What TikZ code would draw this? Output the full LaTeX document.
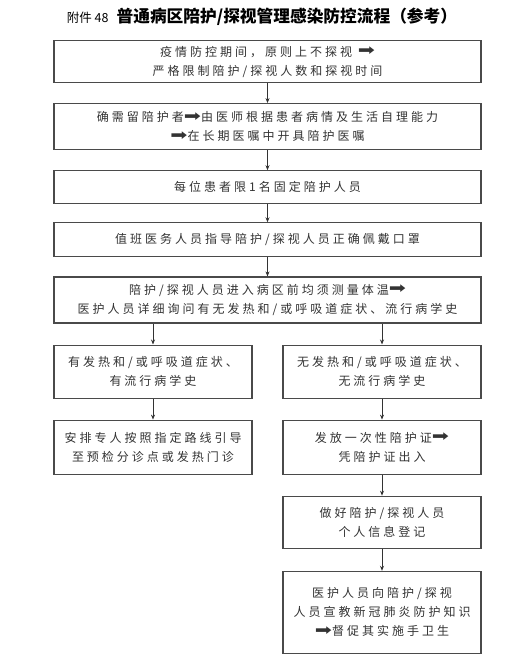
\documentclass[tikz,border=0pt]{standalone}
\usepackage{fontspec}
\usepackage{graphicx}
\setmainfont{Noto Sans CJK SC}
\newfontfamily\spacedcjk{Noto Sans CJK SC}[LetterSpace=25]
\newfontfamily\symfont{DejaVu Sans}
\usepackage{xcolor}
\usetikzlibrary{positioning,arrows.meta}
\definecolor{flowink}{HTML}{333333}
\definecolor{flowline}{HTML}{4A4A4A}
\newcommand{\flowarr}{{\symfont\raisebox{0.1ex}{\scalebox{1.7}[1.3]{➡}}}}

\begin{document}
\begin{tikzpicture}[
  x=1pt,y=-1pt,
  font=\spacedcjk\fontsize{12}{19}\selectfont,
  text=flowink,
  stepbox/.style={draw=flowline,line width=1.1pt,fill=white,align=center,
                  inner sep=3pt},
  wide/.style={stepbox,minimum width=427pt},
  half/.style={stepbox,minimum width=198pt},
  arr/.style={-{Stealth[length=5pt,width=4pt]},flowink,line width=0.8pt}
]
\useasboundingbox (0,0) rectangle (522,671);

% title
\node[font=\normalfont,text=black] (title) at (262,17)
  {{\fontsize{12.5}{14}\selectfont 附件 48}\hspace{8pt}%
   {\fontsize{16.7}{18}\selectfont\bfseries 普通病区陪护/探视管理感染防控流程（参考）}};

% main column
\node[wide,minimum height=42pt,anchor=north] (rule) at (267.5,40)
  {疫情防控期间，原则上不探视 \flowarr\\ 严格限制陪护/探视人数和探视时间};
\node[wide,minimum height=46pt,below=20pt of rule] (order)
  {确需留陪护者\flowarr 由医师根据患者病情及生活自理能力\\ \flowarr 在长期医嘱中开具陪护医嘱};
\node[wide,minimum height=33pt,below=20pt of order] (limit)
  {每位患者限1名固定陪护人员};
\node[wide,minimum height=34pt,below=18pt of limit] (mask)
  {值班医务人员指导陪护/探视人员正确佩戴口罩};
\node[wide,minimum height=46pt,below=19pt of mask] (temp)
  {陪护/探视人员进入病区前均须测量体温\flowarr\\ 医护人员详细询问有无发热和/或呼吸道症状、流行病学史};

% left branch
\node[half,minimum height=53pt,below=21pt of temp.south west,anchor=north west] (fever)
  {有发热和/或呼吸道症状、\\ 有流行病学史};
\node[half,minimum height=54pt,below=21pt of fever] (guide)
  {安排专人按照指定路线引导\\ 至预检分诊点或发热门诊};

% right branch
\node[half,minimum height=53pt,below=21pt of temp.south east,anchor=north east] (nofever)
  {无发热和/或呼吸道症状、\\ 无流行病学史};
\node[half,minimum height=54pt,below=21pt of nofever] (pass)
  {发放一次性陪护证\flowarr\\ 凭陪护证出入};
\node[half,minimum height=52pt,below=21pt of pass] (record)
  {做好陪护/探视人员\\ 个人信息登记};
\node[half,minimum height=82pt,below=22pt of record] (teach)
  {医护人员向陪护/探视\\ 人员宣教新冠肺炎防护知识\\ \flowarr 督促其实施手卫生};

\draw[arr] (rule) -- (order);
\draw[arr] (order) -- (limit);
\draw[arr] (limit) -- (mask);
\draw[arr] (mask) -- (temp);
\draw[arr] (fever.north |- temp.south) -- (fever.north);
\draw[arr] (nofever.north |- temp.south) -- (nofever.north);
\draw[arr] (fever) -- (guide);
\draw[arr] (nofever) -- (pass);
\draw[arr] (pass) -- (record);
\draw[arr] (record) -- (teach);
\end{tikzpicture}
\end{document}
